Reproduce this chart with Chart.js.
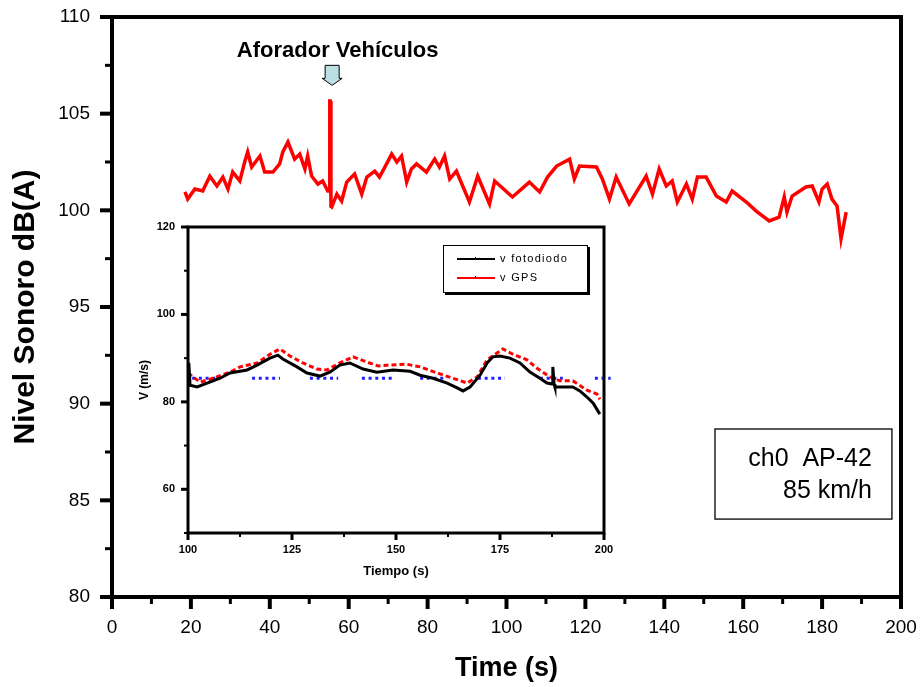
<!DOCTYPE html>
<html>
<head>
<meta charset="utf-8">
<script src="https://cdn.jsdelivr.net/npm/chart.js@4/dist/chart.umd.min.js"></script>
<style>
  html, body { margin: 0; padding: 0; background: #fff; }
  #wrap { position: relative; width: 920px; height: 687px; }
  #main { position: absolute; left: 0; top: 0; }
  #inset { position: absolute; left: 130px; top: 215px; }
</style>
</head>
<body>
<div id="wrap">
  <canvas id="main" width="920" height="687"></canvas>
  <canvas id="inset" width="500" height="375"></canvas>
</div>
<script>
const FAMILY = "'Liberation Sans', Arial, sans-serif";

// main chart: sound level vs time
const timeMain = [18.5,19.2,21.0,23.0,24.8,26.6,28.1,29.4,30.6,32.4,
  33.7,34.4,35.4,37.5,38.7,40.8,42.5,43.3,44.6,46.3,
  47.6,48.9,49.6,50.6,52.2,53.4,54.7,55.1,55.2,55.3,
  55.5,55.7,57.0,58.2,59.5,61.5,63.3,64.6,66.6,67.8,
  69.6,70.9,72.2,73.4,74.7,75.9,77.2,79.7,81.8,83.0,
  84.3,85.6,87.3,90.6,92.7,95.7,97.0,101.5,105.8,108.4,
  110.4,112.7,116.0,117.2,118.5,122.8,124.3,126.1,127.8,131.1,
  135.4,137.0,138.7,140.5,142.0,143.3,145.6,147.1,148.4,150.6,
  153.2,155.7,157.2,160.8,163.3,166.6,169.1,170.4,171.1,172.4,
  175.9,177.5,179.2,180.0,181.3,182.5,183.8,184.8,186.1];
const levelMain = [100.95,100.58,101.1,101.0,101.77,101.26,101.72,101.1,101.98,101.52,
  102.55,103.02,102.24,102.81,101.98,101.98,102.4,103.02,103.53,102.65,
  102.91,102.14,102.81,101.77,101.36,101.52,101.0,101.0,105.65,105.65,
  100.2,100.17,100.84,100.48,101.46,101.88,100.84,101.72,102.03,101.72,
  102.4,102.91,102.5,102.81,101.46,102.14,102.4,101.98,102.65,102.24,
  102.81,101.62,102.03,100.43,101.77,100.33,101.52,100.69,101.46,100.95,
  101.72,102.29,102.65,101.62,102.29,102.24,101.62,100.58,101.72,100.33,
  101.77,100.84,102.14,101.26,101.52,100.43,101.36,100.58,101.72,101.72,
  100.74,100.43,101.0,100.43,99.96,99.45,99.65,100.69,99.91,100.74,
  101.21,101.26,100.43,101.1,101.36,100.58,100.22,98.52,99.91];

// inset: speeds
const tFoto = [100.2,100.5,102.2,104.6,107.7,110.1,114.2,116.6,119.7,121.6,
  122.8,126.2,128.6,131.7,134.1,136.5,138.9,142.1,145.4,149.3,
  153.4,155.8,158.9,162.3,164.7,166.1,167.8,170.2,171.9,173.3,
  175.0,177.4,179.8,182.2,184.6,186.3,187.5,187.7,188.0,188.2,
  192.5,194.2,195.9,197.4,199.0];
const vFoto = [88.9,83.8,83.4,84.3,85.4,86.6,87.3,88.4,90.0,90.7,
  89.8,88.0,86.6,85.9,86.8,88.4,88.9,87.5,86.8,87.3,
  87.0,86.1,85.4,84.3,83.2,82.5,83.4,86.1,88.9,90.3,
  90.5,90.0,88.9,86.8,85.4,84.3,84.1,88.0,84.1,83.4,
  83.4,82.5,81.1,79.7,77.2];
const tGps = [100.0,102.9,106.0,110.1,112.5,116.6,119.7,122.1,124.5,127.6,
  131.0,133.4,136.5,139.7,143.0,145.7,147.8,152.6,155.8,159.9,
  163.7,167.1,169.5,171.9,174.3,175.7,178.1,181.5,183.9,187.0,
  189.4,192.5,195.9,198.3,199.0];
const vGps = [86.6,84.5,85.4,86.8,88.0,88.9,90.9,92.1,90.5,88.9,
  87.5,87.3,88.9,90.3,89.1,88.2,88.4,88.6,88.0,86.6,
  85.4,84.3,85.7,89.6,91.2,92.1,90.9,89.6,87.7,85.7,
  84.8,84.8,82.7,81.8,80.6];
const blueStart = [101.0,115.4,129.3,141.8,155.8,169.7,184.6,197.8];
const blueEnd = [107.7,122.1,136.1,149.8,162.3,176.2,190.1,201.6];
const blueLevel = 85.4;
const blueArrowAt = 202.0;

const markerLabel = 'Aforador Vehículos';
const markerTime = 55.8;
const boxLines = ['ch0  AP-42', '85 km/h'];
const legendNames = ['v fotodiodo', 'v GPS'];

Chart.defaults.font.family = FAMILY;
Chart.defaults.color = '#000';

const pts = (xs, ys) => xs.map((t, i) => ({ x: t, y: ys[i] }));

// fixed scale size, and no extra edge padding from the tick labels
const fixSize = (w, h) => s => {
  if (w != null) s.width = w;
  if (h != null) s.height = h;
  s.paddingTop = s.paddingBottom = s.paddingLeft = s.paddingRight = 0;
};

// frame box plus major/minor tick marks drawn from the scales
function frameTicks(o) {
  return {
    id: 'frameTicks',
    afterDraw(chart) {
      const { ctx, chartArea: a, scales: { x, y } } = chart;
      const isMajor = (v, step) => Math.abs(v / step - Math.round(v / step)) < 1e-6;
      ctx.save();
      ctx.strokeStyle = '#000';
      ctx.lineCap = 'butt';
      for (let i = 0; x.min + i * o.xMinor <= x.max + 1e-9; i++) {
        const v = x.min + i * o.xMinor;
        const px = x.getPixelForValue(v);
        const major = isMajor(v, o.xMajor);
        ctx.lineWidth = major ? o.majorW : o.minorW;
        ctx.beginPath();
        ctx.moveTo(px, a.bottom);
        ctx.lineTo(px, a.bottom + (major ? o.majorLen : o.minorLen));
        ctx.stroke();
      }
      for (let i = 0; y.min + i * o.yMinor <= y.max + 1e-9; i++) {
        const v = y.min + i * o.yMinor;
        const py = y.getPixelForValue(v);
        const major = isMajor(v, o.yMajor);
        ctx.lineWidth = major ? o.majorW : o.minorW;
        ctx.beginPath();
        ctx.moveTo(a.left, py);
        ctx.lineTo(a.left - (major ? o.majorLen : o.minorLen), py);
        ctx.stroke();
      }
      ctx.lineWidth = o.frame;
      ctx.strokeRect(a.left, a.top, a.right - a.left, a.bottom - a.top);
      ctx.restore();
    }
  };
}

const mainNotes = {
  id: 'mainNotes',
  afterDraw(chart) {
    const { ctx, scales: { x, y } } = chart;
    ctx.save();
    ctx.fillStyle = '#000';
    ctx.font = 'bold 22px ' + FAMILY;
    ctx.textAlign = 'center';
    ctx.textBaseline = 'alphabetic';
    ctx.fillText(markerLabel, x.getPixelForValue(57.2), y.getPixelForValue(107.93));

    // small down arrow
    const ax = x.getPixelForValue(markerTime);
    const top = y.getPixelForValue(107.5);
    ctx.beginPath();
    ctx.moveTo(ax - 7, top);
    ctx.lineTo(ax + 7, top);
    ctx.lineTo(ax + 7, top + 13);
    ctx.lineTo(ax + 10, top + 13);
    ctx.lineTo(ax, top + 20);
    ctx.lineTo(ax - 10, top + 13);
    ctx.lineTo(ax - 7, top + 13);
    ctx.closePath();
    ctx.fillStyle = '#bcdfe4';
    ctx.fill();
    ctx.lineWidth = 1;
    ctx.strokeStyle = '#000';
    ctx.stroke();

    // info box
    const bx0 = x.getPixelForValue(152.85), bx1 = x.getPixelForValue(197.7);
    const by0 = y.getPixelForValue(88.69), by1 = y.getPixelForValue(84.03);
    ctx.lineWidth = 1.3;
    ctx.strokeRect(bx0, by0, bx1 - bx0, by1 - by0);
    ctx.fillStyle = '#000';
    ctx.font = '25px ' + FAMILY;
    ctx.textAlign = 'right';
    ctx.fillText(boxLines[0], bx1 - 20, by0 + 37);
    ctx.fillText(boxLines[1], bx1 - 20, by0 + 69);
    ctx.restore();
  }
};

new Chart(document.getElementById('main'), {
  type: 'line',
  data: {
    datasets: [{
      data: pts(timeMain, levelMain),
      borderColor: '#ff0000',
      borderWidth: 3.5,
      pointRadius: 0,
      tension: 0
    }]
  },
  options: {
    responsive: false,
    animation: false,
    layout: { padding: { top: 17, right: 19, left: 0, bottom: 0 } },
    plugins: { legend: { display: false }, tooltip: { enabled: false } },
    scales: {
      x: {
        type: 'linear', min: 0, max: 200,
        ticks: { stepSize: 20, autoSkip: false, maxRotation: 0, padding: 19, font: { size: 19 } },
        grid: { display: false, drawTicks: false },
        border: { display: false },
        title: { display: true, text: 'Time (s)', font: { size: 27, weight: 'bold' }, padding: { top: 0, bottom: 2 } },
        afterFit: fixSize(null, 90)
      },
      y: {
        min: 80, max: 110,
        ticks: { stepSize: 5, padding: 22, font: { size: 19 } },
        grid: { display: false, drawTicks: false },
        border: { display: false },
        title: { display: true, text: 'Nivel Sonoro dB(A)', font: { size: 30, weight: 'bold' }, padding: { top: 8, bottom: 0 } },
        afterFit: fixSize(112, null)
      }
    }
  },
  plugins: [frameTicks({ xMinor: 10, xMajor: 20, yMinor: 2.5, yMajor: 5, majorLen: 12, minorLen: 7, majorW: 4, minorW: 3, frame: 4 }), mainNotes]
});

// legend for the inset
const insetLegend = {
  id: 'insetLegend',
  afterDraw(chart) {
    const { ctx } = chart;
    const x0 = 313, y0 = 30, w = 145, h = 48;
    ctx.save();
    ctx.fillStyle = '#000';
    ctx.fillRect(x0 + 2, y0 + 2, w, h);
    ctx.fillStyle = '#fff';
    ctx.fillRect(x0, y0, w, h);
    ctx.strokeStyle = '#000';
    ctx.lineWidth = 1;
    ctx.strokeRect(x0 + 0.5, y0 + 0.5, w - 1, h - 1);
    const colors = ['#000000', '#ff0000'];
    ctx.font = '11px ' + FAMILY;
    ctx.textBaseline = 'middle';
    ctx.letterSpacing = '1.3px';
    legendNames.forEach((name, i) => {
      const ly = y0 + 14 + i * 19;
      ctx.strokeStyle = colors[i];
      ctx.lineWidth = 2;
      ctx.beginPath();
      ctx.moveTo(x0 + 14, ly);
      ctx.lineTo(x0 + 52, ly);
      ctx.stroke();
      ctx.fillStyle = '#000';
      ctx.fillRect(x0 + 32, ly - 2, 1, 2);
      ctx.fillText(name, x0 + 57, ly);
    });
    ctx.restore();
  }
};

const blueData = [];
blueStart.forEach((s, i) => {
  blueData.push({ x: s, y: blueLevel }, { x: blueEnd[i], y: blueLevel });
  blueData.push({ x: blueEnd[i] + 0.1, y: null });
});

new Chart(document.getElementById('inset'), {
  type: 'line',
  data: {
    datasets: [
      {
        data: pts(tFoto, vFoto),
        borderColor: '#000000',
        borderWidth: 3,
        pointRadius: 0,
        tension: 0
      },
      {
        data: pts(tGps, vGps),
        borderColor: '#ff0000',
        borderWidth: 3,
        borderDash: [5, 3],
        pointRadius: 0,
        tension: 0
      },
      {
        data: blueData,
        borderColor: '#1f1fff',
        borderWidth: 3,
        borderDash: [3, 3.7],
        pointRadius: 0,
        spanGaps: false,
        clip: false
      },
      {
        data: [{ x: blueArrowAt, y: blueLevel }],
        showLine: false,
        pointStyle: 'triangle',
        rotation: 90,
        pointRadius: 4,
        backgroundColor: '#1f1fff',
        borderColor: '#1f1fff',
        clip: false
      }
    ]
  },
  options: {
    responsive: false,
    animation: false,
    layout: { padding: { top: 12, right: 26, left: 0, bottom: 0 } },
    plugins: { legend: { display: false }, tooltip: { enabled: false } },
    scales: {
      x: {
        type: 'linear', min: 100, max: 200,
        ticks: { stepSize: 25, autoSkip: false, maxRotation: 0, padding: 10, font: { size: 11, weight: 'bold' } },
        grid: { display: false, drawTicks: false },
        border: { display: false },
        title: { display: true, text: 'Tiempo (s)', font: { size: 13, weight: 'bold' }, padding: { top: 0, bottom: 11 } },
        afterFit: fixSize(null, 57)
      },
      y: {
        min: 50, max: 120,
        ticks: {
          stepSize: 10, padding: 13, font: { size: 11, weight: 'bold' },
          callback: v => (v % 20 === 0 && v >= 60 ? v : '')
        },
        grid: { display: false, drawTicks: false },
        border: { display: false },
        title: { display: true, text: 'V (m/s)', font: { size: 12, weight: 'bold' }, padding: { top: 7, bottom: 0 } },
        afterFit: fixSize(58, null)
      }
    }
  },
  plugins: [frameTicks({ xMinor: 12.5, xMajor: 25, yMinor: 10, yMajor: 20, majorLen: 7, minorLen: 4, majorW: 3, minorW: 2, frame: 3 }), insetLegend]
});
</script>
</body>
</html>
